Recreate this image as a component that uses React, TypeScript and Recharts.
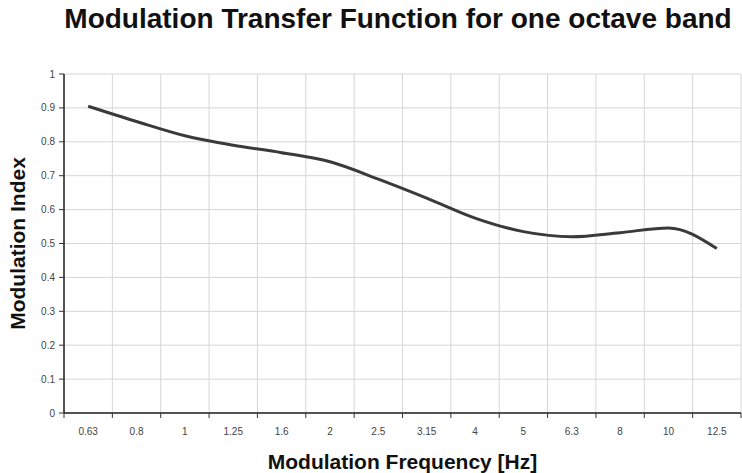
import { CartesianGrid, Label, Line, LineChart, XAxis, YAxis } from "recharts";

const frequencies = ["0.63", "0.8", "1", "1.25", "1.6", "2", "2.5", "3.15", "4", "5", "6.3", "8", "10", "12.5"];
const modulationIndex = [0.905, 0.86, 0.818, 0.79, 0.768, 0.741, 0.69, 0.634, 0.575, 0.535, 0.52, 0.532, 0.546, 0.485];
const indexTicks = [0, 0.1, 0.2, 0.3, 0.4, 0.5, 0.6, 0.7, 0.8, 0.9, 1];

const data = frequencies.map((freq, i) => ({ freq, m: modulationIndex[i] }));

const font = "'Liberation Sans', Arial, sans-serif";
const tickStyle = { fill: "#444", fontSize: 10, fontFamily: font };
const TICK_GAP = 15;

// vertical grid on the band edges (Excel-style category axis)
function bandEdges({ xAxis }: any) {
  const scale = xAxis?.scale;
  if (!scale) return [];
  const map = typeof scale === "function" ? scale : (v: string) => scale.map(v);
  const bw = typeof scale.bandwidth === "function" ? scale.bandwidth() : 0;
  const starts = frequencies.map((f) => map(f) as number);
  return [...starts, starts[starts.length - 1] + bw];
}

function FreqTick(props: any) {
  const { x, y, payload, index } = props;
  const half = payload?.offset ?? 0;
  const axisY = y - TICK_GAP;
  return (
    <g>
      <line x1={x - half} x2={x - half} y1={axisY} y2={axisY + 5} stroke="#333" />
      {index === frequencies.length - 1 ? (
        <line x1={x + half} x2={x + half} y1={axisY} y2={axisY + 5} stroke="#333" />
      ) : null}
      <text x={x} y={y} dy="0.71em" textAnchor="middle" {...tickStyle}>
        {payload.value}
      </text>
    </g>
  );
}

export default function App() {
  return (
    <div style={{ position: "absolute", left: 0, top: 0, width: 742, height: 473, background: "#fff" }}>
      <div
        style={{
          position: "absolute",
          left: 0,
          width: 742,
          top: 3,
          paddingLeft: 54,
          boxSizing: "border-box",
          textAlign: "center",
          fontFamily: font,
          fontWeight: 700,
          fontSize: 28,
          color: "#111",
          whiteSpace: "nowrap",
        }}
      >
        Modulation Transfer Function for one octave band
      </div>
      <LineChart width={742} height={473} data={data} margin={{ top: 74, right: 1, left: 0, bottom: 0 }}>
        <CartesianGrid stroke="#d6d6d6" verticalCoordinatesGenerator={bandEdges} />
        <XAxis
          dataKey="freq"
          scale="band"
          height={60}
          tickLine={false}
          tickSize={0}
          tickMargin={TICK_GAP}
          axisLine={{ stroke: "#222", strokeWidth: 1.5 }}
          tick={<FreqTick />}
          interval={0}
        >
          <Label
            value="Modulation Frequency [Hz]"
            position="insideBottom"
            offset={4}
            style={{ fontFamily: font, fontWeight: 700, fontSize: 21, fill: "#111" }}
          />
        </XAxis>
        <YAxis
          width={64}
          domain={[0, 1]}
          ticks={indexTicks}
          tickSize={5}
          tickMargin={4}
          tickLine={{ stroke: "#333" }}
          axisLine={{ stroke: "#222", strokeWidth: 1.5 }}
          tick={tickStyle}
          tickFormatter={(v: number) => String(Number(v.toFixed(1)))}
        >
          <Label
            value="Modulation Index"
            angle={-90}
            position="insideLeft"
            offset={18}
            style={{ textAnchor: "middle", fontFamily: font, fontWeight: 700, fontSize: 21, fill: "#111" }}
          />
        </YAxis>
        <Line type="monotone" dataKey="m" stroke="#3a3a3a" strokeWidth={3} dot={false} isAnimationActive={false} />
      </LineChart>
    </div>
  );
}
